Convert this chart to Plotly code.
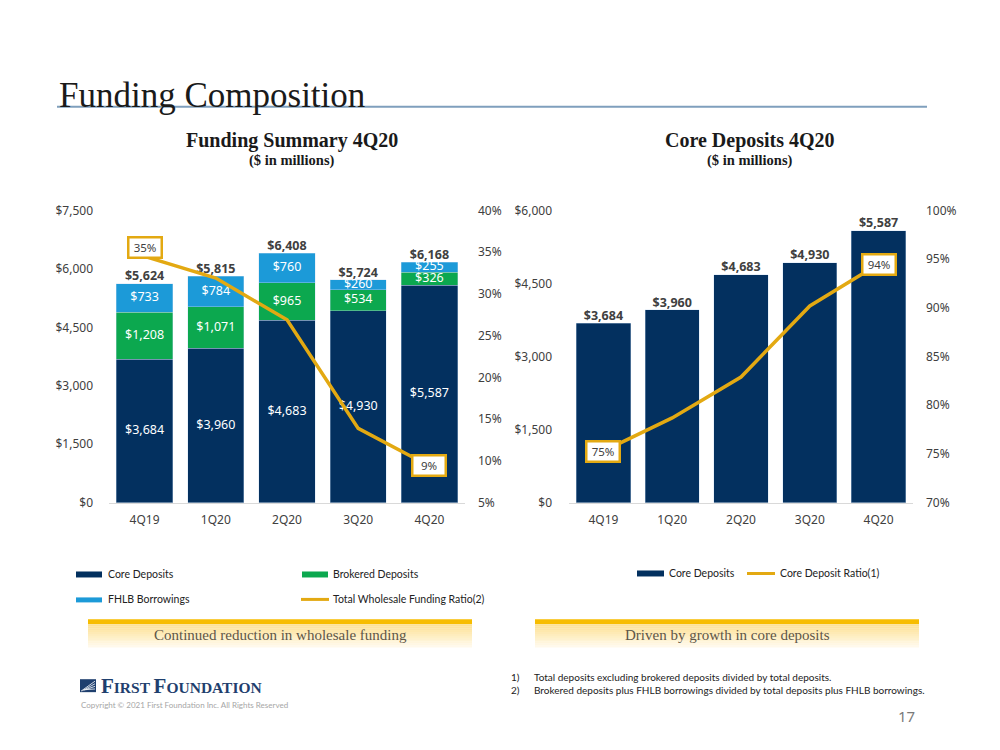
import plotly.graph_objects as go

# ---------------- data ----------------
quarters = ["4Q19", "1Q20", "2Q20", "3Q20", "4Q20"]
core_deposits = [3684, 3960, 4683, 4930, 5587]
brokered_deposits = [1208, 1071, 965, 534, 326]
fhlb_borrowings = [733, 784, 760, 260, 255]
total_funding = [5624, 5815, 6408, 5724, 6168]
wholesale_ratio = [34.5, 31.9, 26.9, 13.9, 9.4]
wholesale_labels = ["35%", "", "", "", "9%"]
core_ratio = [75.3, 78.7, 82.9, 90.2, 94.5]
core_ratio_labels = ["75%", "", "", "", "94%"]

left_y_ticks = [0, 1500, 3000, 4500, 6000, 7500]
left_y2_ticks = [5, 10, 15, 20, 25, 30, 35, 40]
right_y_ticks = [0, 1500, 3000, 4500, 6000]
right_y2_ticks = [70, 75, 80, 85, 90, 95, 100]

NAVY = "#03305f"
GREEN = "#0ca84f"
BLUE = "#1c9ad8"
GOLD = "#e3a912"
TXT = "#404040"
FONT = "Noto Sans"
SERIF = "Liberation Serif"

W, H = 1000, 750


def px(x):
    return (x - 9) / W


def py(y):
    return 1 - ((y - 16) / 0.98) / H


def money(v):
    return "${:,}".format(v)


fig = go.Figure()

# ---------------- left chart: funding summary ----------------
bar_line = dict(color="rgba(200,220,240,0.6)", width=0.6)
fig.add_trace(go.Bar(x=quarters, y=core_deposits, marker=dict(color=NAVY, line=bar_line),
                     xaxis="x", yaxis="y", showlegend=False, hoverinfo="skip"))
fig.add_trace(go.Bar(x=quarters, y=brokered_deposits, marker=dict(color=GREEN, line=bar_line),
                     xaxis="x", yaxis="y", showlegend=False, hoverinfo="skip"))
fig.add_trace(go.Bar(x=quarters, y=fhlb_borrowings, marker=dict(color=BLUE, line=bar_line),
                     xaxis="x", yaxis="y", showlegend=False, hoverinfo="skip"))

# segment labels (centered in each segment)
base = [0] * len(quarters)
for series in (core_deposits, brokered_deposits, fhlb_borrowings):
    mids = [b + v / 2 for b, v in zip(base, series)]
    fig.add_trace(go.Scatter(x=quarters, y=mids, mode="text",
                             text=[money(v) for v in series],
                             textfont=dict(family=FONT, size=12.5, color="white"),
                             xaxis="x", yaxis="y", showlegend=False, hoverinfo="skip"))
    base = [b + v for b, v in zip(base, series)]

# totals above bars
fig.add_trace(go.Scatter(x=quarters, y=total_funding, mode="text",
                         text=["<b>" + money(v) + "</b>" for v in total_funding],
                         textposition="top center",
                         textfont=dict(family=FONT, size=12.5, color=TXT),
                         xaxis="x", yaxis="y", showlegend=False, hoverinfo="skip"))

# wholesale funding ratio line
fig.add_trace(go.Scatter(x=quarters, y=wholesale_ratio, mode="lines",
                         line=dict(color=GOLD, width=3.5),
                         xaxis="x", yaxis="y2", showlegend=False, hoverinfo="skip"))

# ---------------- right chart: core deposits ----------------
fig.add_trace(go.Bar(x=quarters, y=core_deposits, marker=dict(color=NAVY, line=bar_line),
                     xaxis="x2", yaxis="y3", showlegend=False, hoverinfo="skip"))
fig.add_trace(go.Scatter(x=quarters, y=core_deposits, mode="text",
                         text=["<b>" + money(v) + "</b>" for v in core_deposits],
                         textposition="top center",
                         textfont=dict(family=FONT, size=12.5, color=TXT),
                         xaxis="x2", yaxis="y3", showlegend=False, hoverinfo="skip"))
fig.add_trace(go.Scatter(x=quarters, y=core_ratio, mode="lines",
                         line=dict(color=GOLD, width=3.5),
                         xaxis="x2", yaxis="y4", showlegend=False, hoverinfo="skip"))

# ---------------- percent label boxes ----------------
annotations = []
shifts_left = [9, 0, 0, 0, 0]
for q, v, lab, s in zip(quarters, wholesale_ratio, wholesale_labels, shifts_left):
    if lab:
        annotations.append(dict(x=q, y=v, xref="x", yref="y2", text=lab, showarrow=False,
                                yshift=s, bgcolor="white", bordercolor=GOLD, borderwidth=2.5,
                                borderpad=2, width=27, height=14,
                                font=dict(family=FONT, size=11.5, color=TXT)))
for q, v, lab in zip(quarters, core_ratio, core_ratio_labels):
    if lab:
        annotations.append(dict(x=q, y=v, xref="x2", yref="y4", text=lab, showarrow=False,
                                bgcolor="white", bordercolor=GOLD, borderwidth=2.5,
                                borderpad=2, width=27, height=14,
                                font=dict(family=FONT, size=11.5, color=TXT)))


def txt(x, y, text, size, color=TXT, family=FONT, xanchor="left", yanchor="middle"):
    annotations.append(dict(x=px(x), y=py(y), xref="paper", yref="paper", text=text,
                            showarrow=False, xanchor=xanchor, yanchor=yanchor,
                            font=dict(family=family, size=size, color=color)))


shapes = []


def rect(x0, y0, x1, y1, color):
    shapes.append(dict(type="rect", xref="paper", yref="paper", x0=px(x0), x1=px(x1),
                       y0=py(y1), y1=py(y0), fillcolor=color, line=dict(width=0), layer="above"))


def hline(x0, x1, y, color, width):
    shapes.append(dict(type="line", xref="paper", yref="paper", x0=px(x0), x1=px(x1),
                       y0=py(y), y1=py(y), line=dict(color=color, width=width)))


# title + rule
txt(58, 95, "Funding Composition", 35, color="#1a1a1a", family=SERIF)
hline(58, 928, 106, "#7f9fbd", 2)

# chart titles
txt(293, 140, "<b>Funding Summary 4Q20</b>", 20, color="#1a1a1a", family=SERIF, xanchor="center")
txt(293, 160, "<b>($ in millions)</b>", 14.5, color="#1a1a1a", family=SERIF, xanchor="center")
txt(751, 140, "<b>Core Deposits 4Q20</b>", 20, color="#1a1a1a", family=SERIF, xanchor="center")
txt(751, 160, "<b>($ in millions)</b>", 14.5, color="#1a1a1a", family=SERIF, xanchor="center")

# legends
LEG = "Lato"
rect(77, 572, 103, 578, NAVY)
txt(107, 575, "Core Deposits", 10.5, color="#222", family=LEG)
rect(303, 572, 329, 578, GREEN)
txt(332, 575, "Brokered Deposits", 10.5, color="#222", family=LEG)
rect(77, 598, 103, 603, BLUE)
txt(107, 600, "FHLB Borrowings", 10.5, color="#222", family=LEG)
hline(302, 330, 600, GOLD, 3)
txt(332, 600, "Total Wholesale Funding Ratio(2)", 10.5, color="#222", family=LEG)

rect(638, 571, 665, 577, NAVY)
txt(668, 574, "Core Deposits", 10.5, color="#222", family=LEG)
hline(748, 776, 574, GOLD, 3)
txt(779, 574, "Core Deposit Ratio(1)", 10.5, color="#222", family=LEG)

# banners
grad_top = (253, 226, 150)
grad_bot = (255, 249, 235)
steps = 12
for bx0, bx1 in ((89, 473), (536, 920)):
    rect(bx0, 620, bx1, 625, "#f7bd00")
    for i in range(steps):
        t = i / (steps - 1)
        c = tuple(int(round(a + (b - a) * t)) for a, b in zip(grad_top, grad_bot))
        y0 = 625 + i * 23 / steps
        y1 = 625 + (i + 1) * 23 / steps + 0.3
        rect(bx0, y0, bx1, y1, "rgb(%d,%d,%d)" % c)
txt(281, 636, "Continued reduction in wholesale funding", 15, color="#5f5647", family=SERIF,
    xanchor="center")
txt(728, 636, "Driven by growth in core deposits", 15, color="#5f5647", family=SERIF,
    xanchor="center")

# footnotes
txt(510, 678, "1)", 10, color="#222", family=LEG)
txt(533, 678, "Total deposits excluding brokered deposits divided by total deposits.", 10,
    color="#222", family=LEG)
txt(510, 691, "2)", 10, color="#222", family=LEG)
txt(533, 691, "Brokered deposits plus FHLB borrowings divided by total deposits plus FHLB borrowings.",
    10, color="#222", family=LEG)

# logo
LOGO = "#1f3f6e"
shapes.append(dict(type="path", xref="paper", yref="paper",
                   path="M %f,%f L %f,%f L %f,%f L %f,%f Z" % (px(81), py(680), px(97), py(680),
                                                              px(97), py(693), px(81), py(693)),
                   fillcolor=LOGO, line=dict(width=0), layer="above"))
for k in range(4):
    shapes.append(dict(type="line", xref="paper", yref="paper",
                       x0=px(82 + k * 1.5), y0=py(692 - k * 0.5), x1=px(96), y1=py(682 + k * 2.6),
                       line=dict(color="white", width=0.8), layer="above"))
annotations.append(dict(x=px(100), y=py(687), xref="paper", yref="paper", showarrow=False,
                        xanchor="left", yanchor="middle",
                        text="<b><span style='font-size:21px'>F</span>IRST "
                             "<span style='font-size:21px'>F</span>OUNDATION</b>",
                        font=dict(family=SERIF, size=15.5, color=LOGO)))
txt(80, 706, "Copyright © 2021 First Foundation Inc. All Rights Reserved", 8,
    color="#a6a6a6", family=LEG)

# page number
txt(907, 717, "17", 15, color="#7a7a7a", family=FONT, xanchor="center")

axis_common = dict(showgrid=False, zeroline=False, ticks="",
                   tickfont=dict(family=FONT, size=12, color=TXT))

fig.update_layout(
    width=W, height=H,
    margin=dict(l=0, r=0, t=0, b=0),
    paper_bgcolor="white", plot_bgcolor="rgba(0,0,0,0)",
    barmode="stack", bargap=0.21,
    showlegend=False,
    xaxis=dict(domain=[px(110), px(466)], anchor="y", range=[-0.5, 4.5], type="category",
               showline=True, linecolor="#d9d9d9", linewidth=1, ticklabelstandoff=6,
               **axis_common),
    yaxis=dict(domain=[py(503), py(210)], anchor="x", range=[0, 7500],
               tickvals=left_y_ticks, ticktext=[money(v) for v in left_y_ticks],
               ticklabelstandoff=15, **axis_common),
    yaxis2=dict(overlaying="y", anchor="x", side="right", range=[5, 40],
                tickvals=left_y2_ticks, ticktext=["%d%%" % v for v in left_y2_ticks],
                ticklabelstandoff=12, **axis_common),
    xaxis2=dict(domain=[px(570), px(914)], anchor="y3", range=[-0.5, 4.5], type="category",
                showline=True, linecolor="#d9d9d9", linewidth=1, ticklabelstandoff=6,
                **axis_common),
    yaxis3=dict(domain=[py(503), py(210)], anchor="x2", range=[0, 6000],
                tickvals=right_y_ticks, ticktext=[money(v) for v in right_y_ticks],
                ticklabelstandoff=16, **axis_common),
    yaxis4=dict(overlaying="y3", anchor="x2", side="right", range=[70, 100],
                tickvals=right_y2_ticks, ticktext=["%d%%" % v for v in right_y2_ticks],
                ticklabelstandoff=12, **axis_common),
    annotations=annotations,
    shapes=shapes,
)

fig.write_html("out.html")
